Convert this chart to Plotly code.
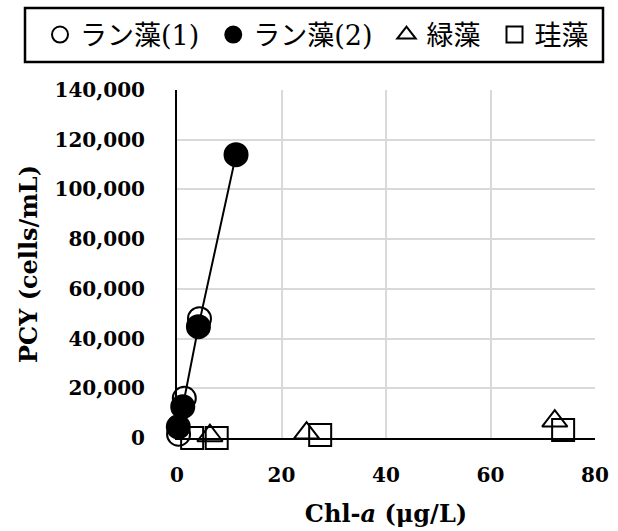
import plotly.graph_objects as go

# --- data ---
cyano1_x = [0.3, 1.4, 4.3]
cyano1_y = [1500, 16000, 48000]

cyano2_x = [0.25, 1.1, 4.1, 11.3]
cyano2_y = [4500, 12600, 44800, 114000]

green_x = [6.3, 24.8, 72.3]
green_y = [900, 2000, 6800]

diatom_x = [2.9, 7.6, 27.4, 73.9]
diatom_y = [0, 0, 1200, 3200]

names = ["ラン藻(1)", "ラン藻(2)", "緑藻", "珪藻"]

x_ticks = [0, 20, 40, 60, 80]
y_ticks = [0, 20000, 40000, 60000, 80000, 100000, 120000, 140000]

SERIF = "DejaVu Serif, Liberation Serif, serif"
LEG_FONT = "Noto Sans CJK JP, DejaVu Serif, serif"

def leg_label(name):
    # Japanese part in CJK font, brackets/digits in serif, with trailing gap
    if "(" in name:
        jp, rest = name.split("(", 1)
        txt = jp + "<span style='font-family:DejaVu Serif'>(" + rest + "</span>"
    else:
        txt = name
    return txt + "\u2004"

fig = go.Figure()

fig.add_trace(go.Scatter(
    x=cyano1_x, y=cyano1_y, mode="markers", name=leg_label(names[0]),
    marker=dict(symbol="circle-open", size=23, color="black",
                line=dict(width=2, color="black")),
    cliponaxis=False,
))
fig.add_trace(go.Scatter(
    x=cyano2_x, y=cyano2_y, mode="lines", showlegend=False,
    line=dict(color="black", width=2), cliponaxis=False,
))
fig.add_trace(go.Scatter(
    x=cyano2_x, y=cyano2_y, mode="markers", name=leg_label(names[1]),
    marker=dict(symbol="circle", size=23, color="black",
                line=dict(width=2, color="black")),
    cliponaxis=False,
))
fig.add_trace(go.Scatter(
    x=green_x, y=green_y, mode="markers", name=leg_label(names[2]),
    marker=dict(symbol="triangle-up-open", size=22, color="black",
                line=dict(width=2, color="black")),
    cliponaxis=False,
))
fig.add_trace(go.Scatter(
    x=diatom_x, y=diatom_y, mode="markers", name=leg_label(names[3]),
    marker=dict(symbol="square-open", size=22, color="black",
                line=dict(width=2, color="black")),
    cliponaxis=False,
))

L, R, T, B = 177, 23, 90, 93
W, H = 618, 531
pw = W - L - R
ph = H - T - B

def px_to_paper_x(p):
    return (p - L) / pw

def px_to_paper_y(p):
    return 1 + (T - p) / ph

fig.add_shape(type="rect", xref="paper", yref="paper",
              x0=px_to_paper_x(25), x1=px_to_paper_x(603),
              y0=px_to_paper_y(62), y1=px_to_paper_y(8),
              line=dict(color="black", width=2.5), fillcolor="rgba(0,0,0,0)",
              layer="above")

fig.update_layout(
    width=W, height=H,
    margin=dict(l=L, r=R, t=T, b=B, autoexpand=False),
    paper_bgcolor="white", plot_bgcolor="white",
    showlegend=True,
    legend=dict(orientation="h", x=px_to_paper_x(40), xanchor="left",
                y=px_to_paper_y(35), yanchor="middle",
                font=dict(family=LEG_FONT, size=27, color="black"),
                bgcolor="rgba(0,0,0,0)", borderwidth=0,
                itemclick=False, itemdoubleclick=False),
    font=dict(family=SERIF, color="black"),
)

fig.update_xaxes(
    range=[0, 80], tickvals=x_ticks, automargin=False,
    showgrid=True, gridcolor="#d9d9d9", gridwidth=2,
    showline=True, linecolor="black", linewidth=2, zeroline=False,
    ticks="outside", ticklen=18, tickcolor="rgba(0,0,0,0)",
    tickfont=dict(family=SERIF, size=20, color="black", weight="bold"),
    title=dict(text="Chl-<i>a</i> (μg/L)", standoff=19,
               font=dict(family=SERIF, size=24, color="black", weight="bold")),
)
fig.update_yaxes(
    range=[0, 140000], tickvals=y_ticks, tickformat=",d", automargin=False,
    showgrid=True, gridcolor="#d9d9d9", gridwidth=2,
    showline=True, linecolor="black", linewidth=2, zeroline=False,
    ticks="outside", ticklen=26, tickcolor="rgba(0,0,0,0)",
    tickfont=dict(family=SERIF, size=20, color="black", weight="bold"),
    title=dict(text="PCY (cells/mL)", standoff=10,
               font=dict(family=SERIF, size=24, color="black", weight="bold")),
)

fig.write_html("out.html", config={"displayModeBar": False},
               post_script="document.body.style.margin='0';document.body.style.padding='0';")
